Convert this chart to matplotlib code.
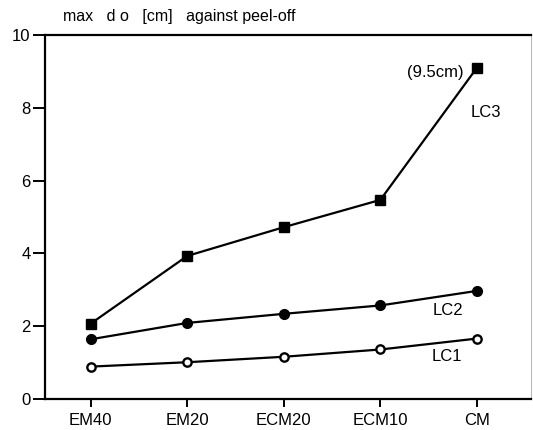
import matplotlib
matplotlib.use("Agg")
import matplotlib.pyplot as plt

categories = ["EM40", "EM20", "ECM20", "ECM10", "CM"]
lc1 = [0.89, 1.01, 1.16, 1.36, 1.66]
lc2 = [1.64, 2.09, 2.34, 2.57, 2.97]
lc3 = [2.07, 3.93, 4.72, 5.47, 9.10]
yticks = [0, 2, 4, 6, 8, 10]

plt.rcParams['font.family'] = ['Liberation Sans', 'DejaVu Sans']

fig = plt.figure(figsize=(5.33, 4.30), dpi=100)
ax = fig.add_axes([45/533, 31/430, (531-45)/533, (399-35)/430])

x = list(range(len(categories)))
ax.plot(x, lc3, color='black', lw=1.6, marker='s', ms=7, mfc='black', mec='black', zorder=3)
ax.plot(x, lc2, color='black', lw=1.6, marker='o', ms=7, mfc='black', mec='black', zorder=3)
ax.plot(x, lc1, color='black', lw=1.6, marker='o', ms=6, mfc='white', mec='black', mew=1.7, zorder=3)

ax.set_xlim(-0.473, 4.56)
ax.set_ylim(0, 10)
ax.set_xticks(x)
ax.set_xticklabels(categories, fontsize=12)
ax.set_yticks(yticks)
ax.set_yticklabels([str(v) for v in yticks], fontsize=12)

ax.tick_params(axis='y', direction='out', length=8.5, width=1.4, pad=2)
ax.tick_params(axis='x', direction='out', length=6, width=1.4, pad=4)

for s in ['left', 'bottom', 'top']:
    ax.spines[s].set_linewidth(1.6)
    ax.spines[s].set_color('black')
ax.spines['right'].set_linewidth(0.8)
ax.spines['right'].set_color('#bbbbbb')

ax.text(3.86, 8.98, "(9.5cm)", ha='right', va='center', fontsize=12)
ax.text(3.93, 7.86, "LC3", ha='left', va='center', fontsize=12)
ax.text(3.54, 2.42, "LC2", ha='left', va='center', fontsize=12)
ax.text(3.53, 1.18, "LC1", ha='left', va='center', fontsize=12)

fig.text(63/533, 1 - 17/430, "max   d o   [cm]   against peel-off", ha='left', va='center', fontsize=11.5)

fig.savefig("out.png", dpi=100)
